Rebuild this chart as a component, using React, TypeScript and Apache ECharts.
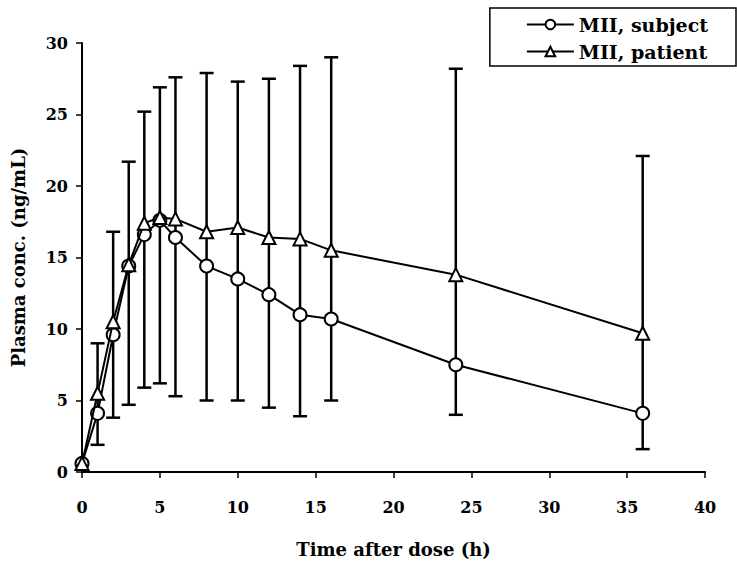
import React, { useEffect, useRef } from "react";
import * as echarts from "echarts";

const times = [0, 1, 2, 3, 4, 5, 6, 8, 10, 12, 14, 16, 24, 36];
const subject = [0.6, 4.1, 9.6, 14.4, 16.6, 17.6, 16.4, 14.4, 13.5, 12.4, 11.0, 10.7, 7.5, 4.1];
const patient = [0.6, 5.5, 10.5, 14.5, 17.4, 17.8, 17.7, 16.8, 17.1, 16.4, 16.3, 15.5, 13.8, 9.7];
const errTimes = [1, 2, 3, 4, 5, 6, 8, 10, 12, 14, 16, 24, 36];
const errLow = [1.9, 3.8, 4.7, 5.9, 6.2, 5.3, 5.0, 5.0, 4.5, 3.9, 5.0, 4.0, 1.6];
const errHigh = [9.0, 16.8, 21.7, 25.2, 26.9, 27.6, 27.9, 27.3, 27.5, 28.4, 29.0, 28.2, 22.1];

const FONT = "'DejaVu Serif', 'Liberation Serif', serif";

export default function App() {
  const ref = useRef<HTMLDivElement>(null);
  useEffect(() => {
    if (!ref.current) return;
    const chart = echarts.init(ref.current, null, { renderer: "svg" });
    const errData = errTimes.map((t, i) => [t, errLow[i], errHigh[i]]);
    chart.setOption({
      animation: false,
      backgroundColor: "#fff",
      grid: { left: 82, right: 32, top: 43, bottom: 90, containLabel: false, outerBoundsMode: "none" },
      legend: {
        orient: "vertical",
        right: 1,
        top: 8,
        borderColor: "#000",
        borderWidth: 1.5,
        padding: [7, 28, 5, 36],
        itemGap: 8,
        itemWidth: 47,
        itemHeight: 12,
        textStyle: { fontFamily: FONT, fontWeight: "bold", fontSize: 19, color: "#000" },
        data: ["MII, subject", "MII, patient"],
      },
      xAxis: {
        type: "value",
        min: 0,
        max: 40,
        interval: 5,
        name: "Time after dose (h)",
        nameLocation: "middle",
        nameGap: 68,
        nameTextStyle: { fontFamily: FONT, fontWeight: "bold", fontSize: 18, color: "#000" },
        axisLine: { lineStyle: { color: "#000", width: 2 } },
        axisTick: { show: true, inside: false, length: 6, lineStyle: { color: "#000", width: 1.5 } },
        axisLabel: { fontFamily: FONT, fontWeight: "bold", fontSize: 16, color: "#000", margin: 27 },
        splitLine: { show: false },
      },
      yAxis: {
        type: "value",
        min: 0,
        max: 30,
        interval: 5,
        name: "Plasma conc. (ng/mL)",
        nameLocation: "middle",
        nameGap: 55,
        nameTextStyle: { fontFamily: FONT, fontWeight: "bold", fontSize: 18, color: "#000" },
        axisLine: { show: true, lineStyle: { color: "#000", width: 2 } },
        axisTick: { show: true, inside: false, length: 6, lineStyle: { color: "#000", width: 1.5 } },
        axisLabel: { fontFamily: FONT, fontWeight: "bold", fontSize: 16, color: "#000", margin: 14 },
        splitLine: { show: false },
      },
      series: [
        {
          type: "custom",
          name: "err",
          z: 1,
          data: errData,
          renderItem: (params: any, api: any) => {
            const x = api.value(0);
            const lo = api.coord([x, api.value(1)]);
            const hi = api.coord([x, api.value(2)]);
            const w = 7;
            const st = { stroke: "#000", lineWidth: 2.5 };
            return {
              type: "group",
              children: [
                { type: "line", shape: { x1: lo[0], y1: lo[1], x2: hi[0], y2: hi[1] }, style: st },
                { type: "line", shape: { x1: lo[0] - w, y1: lo[1], x2: lo[0] + w, y2: lo[1] }, style: st },
                { type: "line", shape: { x1: hi[0] - w, y1: hi[1], x2: hi[0] + w, y2: hi[1] }, style: st },
              ],
            };
          },
        },
        {
          type: "line",
          name: "MII, subject",
          z: 3,
          data: times.map((t, i) => [t, subject[i]]),
          symbol: "circle",
          symbolSize: 13,
          showAllSymbol: true,
          lineStyle: { color: "#000", width: 2 },
          itemStyle: { color: "#fff", borderColor: "#000", borderWidth: 2 },
        },
        {
          type: "line",
          name: "MII, patient",
          z: 4,
          data: times.map((t, i) => [t, patient[i]]),
          symbol: "triangle",
          symbolSize: 13,
          showAllSymbol: true,
          lineStyle: { color: "#000", width: 2 },
          itemStyle: { color: "#fff", borderColor: "#000", borderWidth: 2 },
        },
      ],
    });
    return () => chart.dispose();
  }, []);
  return <div ref={ref} style={{ width: 737, height: 562, position: "absolute", left: 0, top: 0 }} />;
}
